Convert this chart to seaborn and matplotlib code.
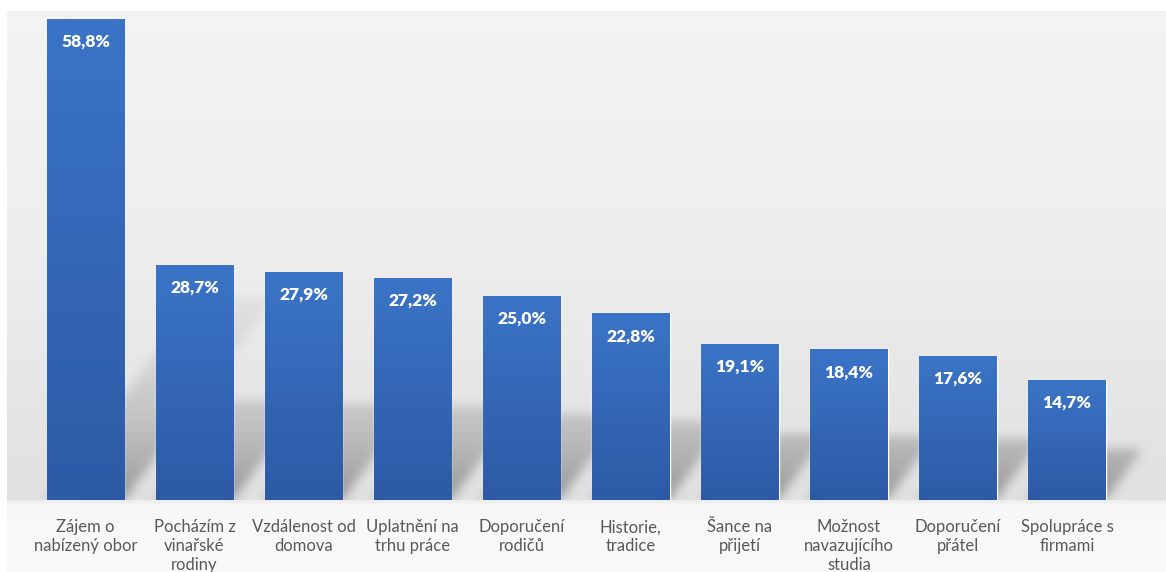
import numpy as np
import matplotlib
matplotlib.use("Agg")
import matplotlib.pyplot as plt
import seaborn as sns
from matplotlib.colors import LinearSegmentedColormap

# Reasons for choosing the school (share of respondents, %)
categories = [
    "Zájem o\nnabízený obor",
    "Pocházím z\nvinařské\nrodiny",
    "Vzdálenost od\ndomova",
    "Uplatnění na\ntrhu práce",
    "Doporučení\nrodičů",
    "Historie,\ntradice",
    "Šance na\npřijetí",
    "Možnost\nnavazujícího\nstudia",
    "Doporučení\npřátel",
    "Spolupráce s\nfirmami",
]
values = [58.8, 28.7, 27.9, 27.2, 25.0, 22.8, 19.1, 18.4, 17.6, 14.7]

sns.set_theme(style="white")
plt.rcParams["font.family"] = ["Lato", "DejaVu Sans"]

W, H = 1166, 572
fig = plt.figure(figsize=(W / 100, H / 100), dpi=100)
fig.patch.set_facecolor("white")

# Geometry in pixels
px_left, px_top, px_base = 7, 11, 500

# Background panel with a soft vertical gradient
bg = fig.add_axes([px_left / W, 0, 1 - px_left / W, (H - px_top) / H])
bg.set_axis_off()
rows = H - px_top
yy = np.arange(rows)
col = np.empty(rows)
split = px_base - px_top
col[:split] = np.interp(yy[:split], [0, split * 0.45, split], [0.955, 0.935, 0.88])
col[split:] = np.interp(yy[split:], [split, split + 6, rows], [0.93, 0.972, 0.975])
bg_img = np.repeat(col[:, None], 10, axis=1)
bg.imshow(np.dstack([bg_img] * 3), aspect="auto", extent=[0, 1, 0, 1])
bg.set_xlim(0, 1)
bg.set_ylim(0, 1)

# Main axes
ax = fig.add_axes([px_left / W, (H - px_base) / H, 1 - px_left / W, (px_base - px_top) / H])
ax.set_facecolor("none")

px_per_unit_x = 109.06
px_per_pct = 8.18
x_lo = (px_left - 85.5) / px_per_unit_x
x_hi = (W - 85.5) / px_per_unit_x
y_hi = (px_base - px_top) / px_per_pct

bar_w = 0.71
sns.barplot(x=categories, y=values, width=bar_w, color="#3466b5",
            saturation=1, ax=ax, zorder=3)

# Perspective shadows cast by the bars onto the backdrop
nx, ny = W - px_left, px_base - px_top
gx = np.linspace(x_lo, x_hi, nx)
gy = np.linspace(0, y_hi, ny)
XX, YY = np.meshgrid(gx, gy)
YY_px = YY * px_per_pct
mask = np.zeros_like(XX)
slope = 1.35  # vertical px per horizontal px of the shadow's lean
for i, v in enumerate(values):
    top_px = 0.42 * v * px_per_pct
    lean = YY_px / slope / px_per_unit_x
    x0 = i - bar_w / 2 + lean
    x1 = i + bar_w / 2 + lean
    inside = (YY_px <= top_px) & (XX >= x0) & (XX <= x1)
    mask = np.maximum(mask, inside * np.exp(-YY_px / 100.0))

def blur(a, sigma, axis):
    r = int(3 * sigma)
    k = np.exp(-0.5 * (np.arange(-r, r + 1) / sigma) ** 2)
    k /= k.sum()
    return np.apply_along_axis(lambda m: np.convolve(m, k, mode="same"), axis, a)

mask = blur(mask, 5, 1)
mask = blur(mask, 5, 0)
shadow = np.zeros((ny, nx, 4))
shadow[..., :3] = 0.3
shadow[..., 3] = mask * 0.5
ax.imshow(shadow, origin="lower", extent=[x_lo, x_hi, 0, y_hi],
          aspect="auto", zorder=1, interpolation="bilinear")

# Vertical colour gradient on every bar
grad_cmap = LinearSegmentedColormap.from_list("bar", ["#2d5aa5", "#3b74c7"])
grad = np.linspace(0, 1, 256)[:, None]
for p in list(ax.patches):
    x, y = p.get_x(), p.get_y()
    w, h = p.get_width(), p.get_height()
    im = ax.imshow(grad, cmap=grad_cmap, origin="lower", aspect="auto",
                   extent=[x, x + w, y, y + h], zorder=4)
    im.set_clip_path(p)

# Value labels inside the top of each bar
for i, v in enumerate(values):
    ax.text(i, v - 2.8, f"{v:.1f}".replace(".", ",") + "%",
            ha="center", va="center", color="white", fontsize=12.5,
            fontweight="heavy", zorder=6)

ax.set_xlim(x_lo, x_hi)
ax.set_ylim(0, y_hi)
ax.set_yticks([])
ax.set_xlabel("")
ax.set_ylabel("")
for s in ax.spines.values():
    s.set_visible(False)
ax.tick_params(axis="x", length=0, pad=14, labelsize=12, labelcolor="#595959")
for lab in ax.get_xticklabels():
    lab.set_linespacing(1.2)

fig.savefig("out.png", dpi=100)
